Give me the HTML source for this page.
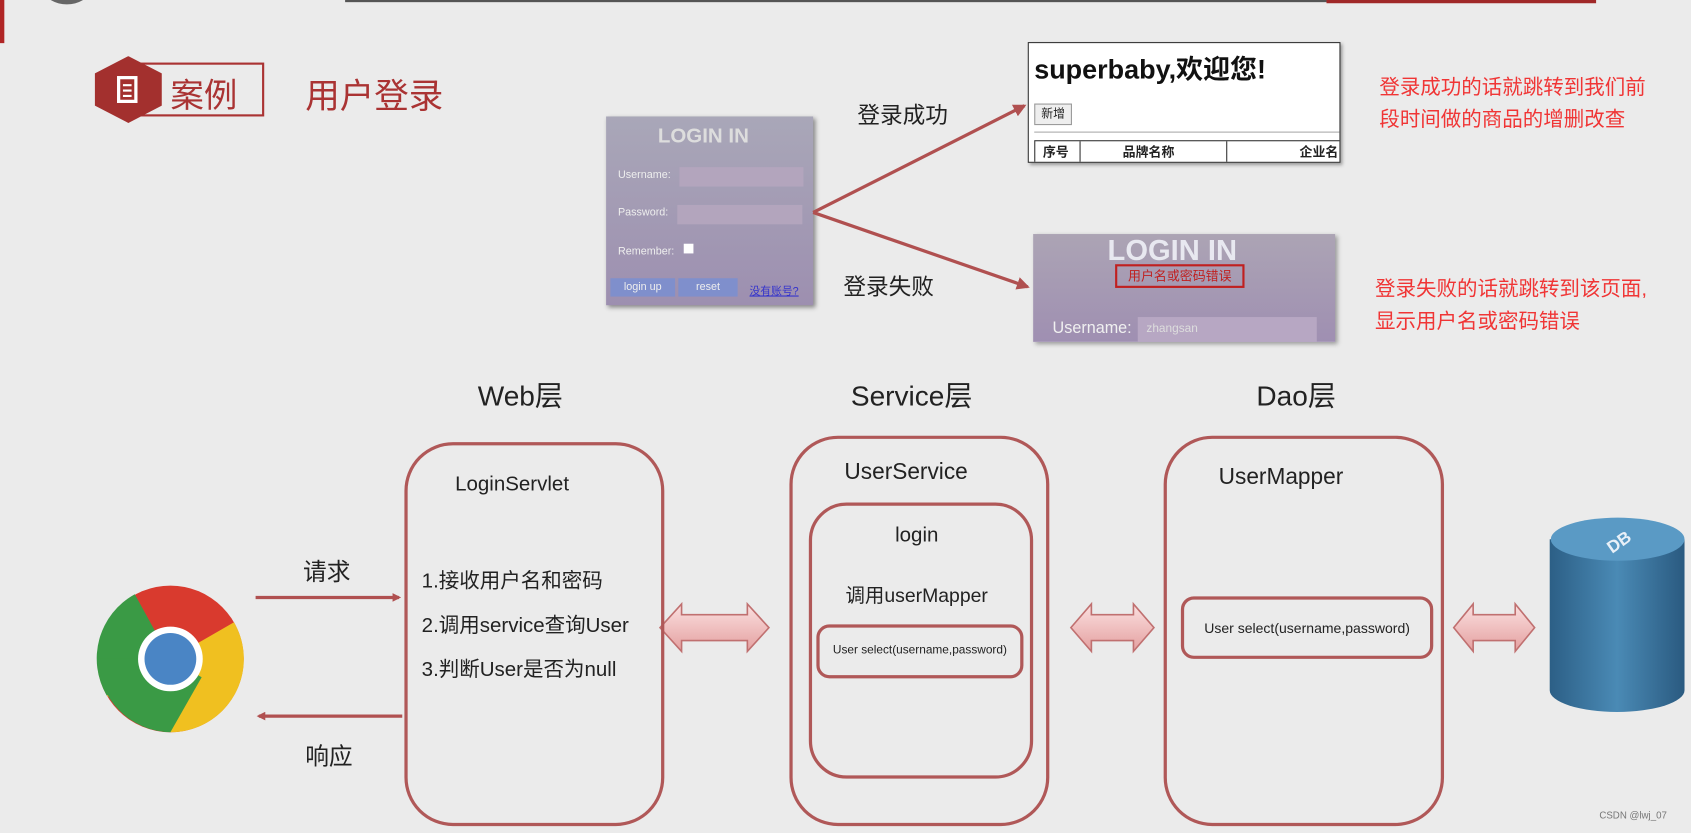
<!DOCTYPE html>
<html><head><meta charset="utf-8"><style>
html,body{margin:0;padding:0;width:1691px;height:833px;overflow:hidden;background:#ebebeb}
#w{position:absolute;left:0;top:0;width:1568px;height:772px;transform:scale(1.07844);transform-origin:0 0;font-family:"Liberation Sans","Noto Sans CJK SC",sans-serif;color:#222}
.a{position:absolute;white-space:nowrap}
.box{position:absolute;border:3px solid #b05858;box-sizing:border-box}
</style></head><body><div id="w">
<div class="a" style="left:0;top:0;width:4px;height:40px;background:#b02525"></div>
<div class="a" style="left:42px;top:-20px;width:40px;height:24px;border-radius:50%;background:#666"></div>
<div class="a" style="left:320px;top:0;width:910px;height:2px;background:#555"></div>
<div class="a" style="left:1230px;top:0;width:250px;height:3px;background:#a02828"></div>

<div class="box" style="left:128px;top:58px;width:117px;height:50px;border:2px solid #a33"></div>
<svg class="a" style="left:86px;top:52px" width="66" height="62"><polygon points="33,0 64,16 64,46 33,62 2,46 2,16" fill="#a3302e"/><rect x="24" y="20" width="16" height="22" fill="none" stroke="#fff" stroke-width="3"/><line x1="28" y1="27" x2="36" y2="27" stroke="#fff" stroke-width="2"/><line x1="28" y1="32" x2="36" y2="32" stroke="#fff" stroke-width="2"/><line x1="28" y1="37" x2="36" y2="37" stroke="#fff" stroke-width="2"/></svg>
<div class="a" style="left:158px;top:63px;font-size:31px;color:#a33">案例</div>
<div class="a" style="left:283px;top:64px;font-size:32px;color:#a33">用户登录</div>

<div class="a" style="left:562px;top:108px;width:192px;height:175px;background:linear-gradient(#a9a7b8,#9d8fb0);box-shadow:2px 2px 4px #888;color:#eee;font-size:10px">
<div class="a" style="left:48px;top:8px;font-size:19px;font-weight:bold;color:#ddd">LOGIN IN</div>
<div class="a" style="left:11px;top:49px">Username:</div><div class="a" style="left:68px;top:47px;width:115px;height:18px;background:#b3a5bd"></div>
<div class="a" style="left:11px;top:84px">Password:</div><div class="a" style="left:66px;top:82px;width:116px;height:18px;background:#b3a5bd"></div>
<div class="a" style="left:11px;top:120px">Remember:</div><div class="a" style="left:72px;top:118px;width:9px;height:9px;background:#fff"></div>
<div class="a" style="left:4px;top:150px;width:60px;height:17px;background:#7f8fcc;text-align:center;line-height:17px">login up</div>
<div class="a" style="left:67px;top:150px;width:55px;height:17px;background:#7f8fcc;text-align:center;line-height:17px">reset</div>
<div class="a" style="left:133px;top:153px;color:#33c;text-decoration:underline">没有账号?</div>
</div>

<svg class="a" style="left:0;top:0" width="1568" height="772">
<defs><marker id="m" markerWidth="8" markerHeight="8" refX="6" refY="4" orient="auto" markerUnits="userSpaceOnUse"><path d="M0,0 L8,4 L0,8 z" fill="#b05050"/></marker>
<marker id="m2" markerWidth="12" markerHeight="12" refX="10" refY="6" orient="auto" markerUnits="userSpaceOnUse"><path d="M0,0 L12,6 L0,12 z" fill="#b05050"/></marker>
<linearGradient id="g" x1="0" y1="0" x2="0" y2="1"><stop offset="0" stop-color="#fbe0e0"/><stop offset="1" stop-color="#e4a0a0"/></linearGradient>
<linearGradient id="db" x1="0" y1="0" x2="1" y2="0"><stop offset="0" stop-color="#2c5f86"/><stop offset="0.5" stop-color="#4a8ab5"/><stop offset="1" stop-color="#2a5a80"/></linearGradient></defs>
<line x1="754" y1="197" x2="950" y2="98" stroke="#b05050" stroke-width="3" marker-end="url(#m2)"/>
<line x1="754" y1="197" x2="953" y2="266" stroke="#b05050" stroke-width="3" marker-end="url(#m2)"/>
<line x1="237" y1="554" x2="370" y2="554" stroke="#b05050" stroke-width="3" marker-end="url(#m)"/>
<line x1="373" y1="664" x2="240" y2="664" stroke="#b05050" stroke-width="3" marker-end="url(#m)"/>
<g fill="url(#g)" stroke="#c07070" stroke-width="1.5">
<path d="M612,582 L632,560 L632,570 L693,570 L693,560 L713,582 L693,604 L693,594 L632,594 L632,604 z"/>
<path d="M993,582 L1012,560 L1012,570 L1051,570 L1051,560 L1070,582 L1051,604 L1051,594 L1012,594 L1012,604 z"/>
<path d="M1348,582 L1366,560 L1366,570 L1405,570 L1405,560 L1423,582 L1405,604 L1405,594 L1366,594 L1366,604 z"/>
</g>
<circle cx="158" cy="611" r="68" fill="#d93a2e"/>
<path d="M158,611 L99,645 A68,68 0 0 1 125,551 z" fill="#3a9a45"/>
<path d="M158,611 L217,577 A68,68 0 0 1 158,679 L99,645 z" fill="#f0c020"/>
<path d="M158,611 L91,611 A68,68 0 0 0 158,679 L187,628 z" fill="#3a9a45"/>
<circle cx="158" cy="611" r="30" fill="#fff"/><circle cx="158" cy="611" r="24" fill="#4a85c5"/>
<path d="M1437,500 L1437,640 A62,20 0 0 0 1562,640 L1562,500 z" fill="url(#db)"/>
<ellipse cx="1500" cy="500" rx="62" ry="20" fill="#5a9ac5"/>
<text x="1490" y="512" fill="#e8f0f8" font-size="16" font-weight="bold" font-family="Liberation Sans" transform="rotate(-35 1495 505)">DB</text>
</svg>

<div class="a" style="left:795px;top:91px;font-size:21px">登录成功</div>
<div class="a" style="left:782px;top:250px;font-size:21px">登录失败</div>

<div class="a" style="left:953px;top:39px;width:290px;height:112px;background:#fff;border:1px solid #333;box-sizing:border-box;box-shadow:2px 2px 3px #999;overflow:hidden">
<div class="a" style="left:5px;top:5px;font-size:25px;font-weight:bold;color:#111">superbaby,欢迎您!</div>
<div class="a" style="left:5px;top:56px;width:33px;height:18px;border:1px solid #999;background:#eee;font-size:11px;text-align:center;line-height:18px">新增</div>
<div class="a" style="left:5px;top:82px;width:290px;height:1px;background:#aaa"></div>
<div class="a" style="left:5px;top:90px;width:290px;height:21px;border:1px solid #333;font-size:12px;font-weight:bold;line-height:21px">
<span class="a" style="left:7px">序号</span><span class="a" style="left:41px;height:21px;border-left:1px solid #333"></span><span class="a" style="left:81px">品牌名称</span><span class="a" style="left:177px;height:21px;border-left:1px solid #333"></span><span class="a" style="left:245px">企业名</span></div>
</div>

<div class="a" style="left:958px;top:217px;width:280px;height:100px;background:linear-gradient(#aca4b4,#9f8fb2);box-shadow:2px 2px 4px #999;overflow:hidden">
<div class="a" style="left:69px;top:0;font-size:27px;font-weight:bold;color:#e8e8f0">LOGIN IN</div>
<div class="a" style="left:76px;top:28px;width:120px;height:22px;border:2px solid #c02020;box-sizing:border-box;font-size:12px;color:#c02020;text-align:center;line-height:18px">用户名或密码错误</div>
<div class="a" style="left:18px;top:79px;font-size:15px;color:#f0f0f0">Username:</div>
<div class="a" style="left:97px;top:77px;width:166px;height:25px;background:#b7a7c3;font-size:11px;color:#ddd;line-height:22px;padding-left:8px;box-sizing:border-box">zhangsan</div>
</div>

<div class="a" style="left:1279px;top:67px;font-size:19px;line-height:30px;color:#f03535">登录成功的话就跳转到我们前<br>段时间做的商品的增删改查</div>
<div class="a" style="left:1275px;top:254px;font-size:19px;line-height:30px;color:#f03535">登录失败的话就跳转到该页面,<br>显示用户名或密码错误</div>

<div class="a" style="left:443px;top:347px;font-size:26px">Web层</div>
<div class="a" style="left:789px;top:347px;font-size:26px">Service层</div>
<div class="a" style="left:1165px;top:347px;font-size:26px">Dao层</div>

<div class="box" style="left:375px;top:410px;width:241px;height:356px;border-radius:45px"></div>
<div class="box" style="left:732px;top:404px;width:241px;height:362px;border-radius:45px"></div>
<div class="box" style="left:750px;top:466px;width:208px;height:256px;border-radius:35px"></div>
<div class="box" style="left:757px;top:579px;width:192px;height:50px;border-radius:12px"></div>
<div class="box" style="left:1079px;top:404px;width:260px;height:362px;border-radius:45px"></div>
<div class="box" style="left:1095px;top:553px;width:234px;height:58px;border-radius:12px"></div>

<div class="a" style="left:422px;top:439px;font-size:19px">LoginServlet</div>
<div class="a" style="left:391px;top:524px;font-size:19px">1.接收用户名和密码</div>
<div class="a" style="left:391px;top:565px;font-size:19px">2.调用service查询User</div>
<div class="a" style="left:391px;top:606px;font-size:19px">3.判断User是否为null</div>
<div class="a" style="left:783px;top:426px;font-size:21px">UserService</div>
<div class="a" style="left:830px;top:486px;font-size:19px">login</div>
<div class="a" style="left:784px;top:538px;font-size:18px">调用userMapper</div>
<div class="a" style="left:757px;top:597px;width:192px;text-align:center;font-size:11px">User select(username,password)</div>
<div class="a" style="left:1130px;top:431px;font-size:21px">UserMapper</div>
<div class="a" style="left:1095px;top:575px;width:234px;text-align:center;font-size:13px">User select(username,password)</div>
<div class="a" style="left:281px;top:513px;font-size:22px">请求</div>
<div class="a" style="left:283px;top:684px;font-size:22px">响应</div>
<div class="a" style="left:1483px;top:751px;font-size:9px;color:#777">CSDN @lwj_07</div>
</div></body></html>
